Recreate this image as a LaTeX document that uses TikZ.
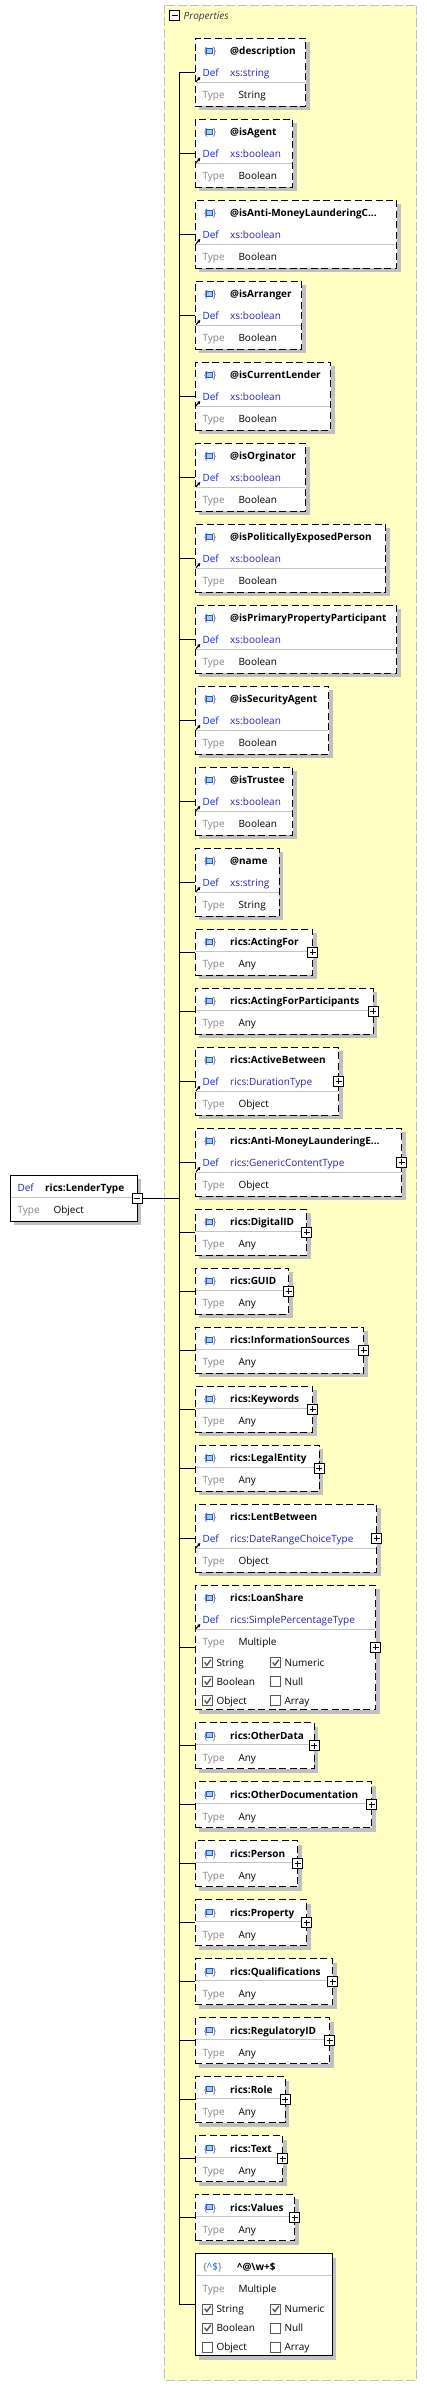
\documentclass[tikz,border=0pt]{standalone}
\usepackage{fontspec}
\setmainfont{Open Sans}
\usetikzlibrary{positioning,shadows,arrows.meta}

\definecolor{panelfill}{RGB}{255,255,196}
\definecolor{panelline}{RGB}{190,190,190}
\definecolor{shadowgray}{RGB}{192,192,192}
\definecolor{sepgray}{RGB}{196,196,196}
\definecolor{defblue}{RGB}{20,40,230}
\definecolor{valblue}{RGB}{44,36,175}
\definecolor{typegray}{RGB}{140,128,140}
\definecolor{bracegray}{RGB}{110,110,110}
\definecolor{iconblue}{RGB}{30,90,220}
\definecolor{iconfill}{RGB}{170,200,250}
\definecolor{checkgray}{RGB}{90,90,90}

\tikzset{
  elem/.style={draw, line width=1pt, fill=white, inner sep=0pt, outer sep=0pt,
    drop shadow={shadow xshift=4pt, shadow yshift=-4pt, fill=shadowgray, draw=none, opacity=1}},
  optbox/.style={dash pattern=on 7pt off 3.5pt},
  plaintxt/.style={anchor=base west, inner sep=0pt, font=\fontsize{10}{12}\selectfont},
  titletxt/.style={plaintxt, font=\fontsize{10}{12}\selectfont\bfseries},
  deftxt/.style={plaintxt, text=defblue},
  valtxt/.style={plaintxt, text=valblue},
  typetxt/.style={plaintxt, text=typegray},
  bracetxt/.style={plaintxt, text=bracegray},
  iconsq/.style={draw=iconblue, fill=iconfill, line width=0.9pt},
  linkarrow/.style={-{Stealth[length=3pt,width=3.6pt]}, line width=1.1pt},
  sepline/.style={draw=sepgray, line width=0.9pt, shorten <=0.5pt, shorten >=0.5pt},
  branch/.style={line width=1pt},
  minusbox/.style={draw, line width=0.8pt, fill=white, minimum size=10pt, inner sep=0pt,
    path picture={\draw[line width=0.8pt]
      ([xshift=2pt]path picture bounding box.west) -- ([xshift=-2pt]path picture bounding box.east);}},
  plusbox/.style={draw, line width=0.8pt, fill=white, minimum size=10pt, inner sep=0pt,
    path picture={\draw[line width=0.8pt]
      ([xshift=2pt]path picture bounding box.west) -- ([xshift=-2pt]path picture bounding box.east)
      ([yshift=-2pt]path picture bounding box.north) -- ([yshift=2pt]path picture bounding box.south);}},
  cbox/.style={draw=checkgray, line width=0.8pt, fill=white, minimum size=10pt, inner sep=0pt, anchor=west},
  ticked/.style={cbox,
    path picture={\draw[line width=1.4pt]
      ([shift={(2,5.2)}]path picture bounding box.south west) --
      ([shift={(4.2,2.4)}]path picture bounding box.south west) --
      ([shift={(8.2,8)}]path picture bounding box.south west);}}
}

% title row: icon and name
\newcommand{\elemhead}[2]{%
  \node[bracetxt] (#1icon) at ([shift={(8.3,-16.5)}]#1.north west) {\{\hspace{5pt}\}};
  \draw[iconsq] ([shift={(11.4,-9.7)}]#1.north west) rectangle ++(6,-5);
  \node[titletxt] (#1title) at ([shift={(34.7,-16.5)}]#1.north west) {#2};}
% def row
\newcommand{\elemdef}[2]{%
  \draw[linkarrow] ([shift={(0.6,-43.4)}]#1.north west) -- ++(4.4,4.6);
  \node[deftxt] (#1def) at ([shift={(7,-38.5)}]#1.north west) {Def};
  \node[valtxt] (#1defval) at ([shift={(34.7,-38.5)}]#1.north west) {#2};}
% type row under a separator
\newcommand{\elemtype}[3]{%
  \draw[sepline] ([yshift=-#2pt]#1.north west) -- ([yshift=-#2pt]#1.north east);
  \node[typetxt] (#1type) at ([shift={(7,-#2-16.5)}]#1.north west) {Type};
  \node[plaintxt] (#1typeval) at ([shift={(43,-#2-16.5)}]#1.north west) {#3};}
% one json type check box
\newcommand{\checkitem}[5]{%
  \node[#4] (#1-#5) at ([shift={(#2,-#3)}]#1.north west) {};
  \node[plaintxt] (#1-#5txt) at ([shift={(#2+14,-#3-3.6)}]#1.north west) {#5};}

\newcommand{\attrelem}[6]{%
  \node[elem, optbox, #2, anchor=north west, minimum width=#3, minimum height=68] (#1) {};
  \elemhead{#1}{#4}\elemdef{#1}{#5}\elemtype{#1}{44}{#6}
  \draw[branch] (trunk |- #1.west) -- (#1.west);}
\newcommand{\anyelem}[4]{%
  \node[elem, optbox, #2, anchor=north west, minimum width=#3, minimum height=46] (#1) {};
  \elemhead{#1}{#4}\elemtype{#1}{22}{Any}
  \node[plusbox] (#1plus) at (#1.east) {};
  \draw[branch] (trunk |- #1.west) -- (#1.west);}
\newcommand{\objelem}[5]{%
  \node[elem, optbox, #2, anchor=north west, minimum width=#3, minimum height=68] (#1) {};
  \elemhead{#1}{#4}\elemdef{#1}{#5}\elemtype{#1}{44}{Object}
  \node[plusbox] (#1plus) at (#1.east) {};
  \draw[branch] (trunk |- #1.west) -- (#1.west);}

\begin{document}
\begin{tikzpicture}[x=1pt, y=1pt, node distance=13pt]
  \useasboundingbox (0,0) rectangle (427,-2386);

  % properties panel
  \draw[fill=panelfill, draw=panelline, line width=1pt, dash pattern=on 9pt off 3pt]
    (164.3,-5.3) rectangle (416.7,-2380);
  \node[minusbox] (propminus) at (174.7,-15.7) {};
  \node[plaintxt, font=\fontsize{10}{12}\selectfont\itshape, text=black!80] (proptitle)
    at (183.5,-19.5) {Properties};

  \coordinate (trunk) at (179.7,0);

  \attrelem{desc}{at={(195.3,-38.3)}}{110.4}{@description}{xs:string}{String}
  \attrelem{agent}{below=of desc.south west}{97.4}{@isAgent}{xs:boolean}{Boolean}
  \attrelem{amlc}{below=of agent.south west}{201.4}{@isAnti-MoneyLaunderingC...}{xs:boolean}{Boolean}
  \attrelem{arranger}{below=of amlc.south west}{106.4}{@isArranger}{xs:boolean}{Boolean}
  \attrelem{curlender}{below=of arranger.south west}{135.4}{@isCurrentLender}{xs:boolean}{Boolean}
  \attrelem{orginator}{below=of curlender.south west}{110.4}{@isOrginator}{xs:boolean}{Boolean}
  \attrelem{pep}{below=of orginator.south west}{190.4}{@isPoliticallyExposedPerson}{xs:boolean}{Boolean}
  \attrelem{ppp}{below=of pep.south west}{201.4}{@isPrimaryPropertyParticipant}{xs:boolean}{Boolean}
  \attrelem{secagent}{below=of ppp.south west}{133.4}{@isSecurityAgent}{xs:boolean}{Boolean}
  \attrelem{trustee}{below=of secagent.south west}{97.4}{@isTrustee}{xs:boolean}{Boolean}
  \attrelem{name}{below=of trustee.south west}{84}{@name}{xs:string}{String}
  \anyelem{actfor}{below=of name.south west}{117.4}{rics:ActingFor}
  \anyelem{actforp}{below=of actfor.south west}{178}{rics:ActingForParticipants}
  \objelem{activebtw}{below=of actforp.south west}{143.4}{rics:ActiveBetween}{rics:DurationType}
  \objelem{amle}{below=of activebtw.south west}{206.4}{rics:Anti-MoneyLaunderingE...}{rics:GenericContentType}
  \anyelem{digitalid}{below=of amle.south west}{111.4}{rics:DigitalID}
  \anyelem{guid}{below=of digitalid.south west}{93.4}{rics:GUID}
  \anyelem{infosrc}{below=of guid.south west}{168.4}{rics:InformationSources}
  \anyelem{keywords}{below=of infosrc.south west}{117.4}{rics:Keywords}
  \anyelem{legal}{below=of keywords.south west}{124}{rics:LegalEntity}
  \objelem{lentbtw}{below=of legal.south west}{181.4}{rics:LentBetween}{rics:DateRangeChoiceType}

  % loan share, several json types
  \node[elem, optbox, below=of lentbtw.south west, anchor=north west,
    minimum width=180.4, minimum height=124.3] (loanshare) {};
  \elemhead{loanshare}{rics:LoanShare}
  \elemdef{loanshare}{rics:SimplePercentageType}
  \elemtype{loanshare}{44}{Multiple}
  \checkitem{loanshare}{7}{77.3}{ticked}{String}
  \checkitem{loanshare}{75}{77.3}{ticked}{Numeric}
  \checkitem{loanshare}{7}{96.3}{ticked}{Boolean}
  \checkitem{loanshare}{75}{96.3}{cbox}{Null}
  \checkitem{loanshare}{7}{115.3}{ticked}{Object}
  \checkitem{loanshare}{75}{115.3}{cbox}{Array}
  \node[plusbox] (loanshareplus) at (loanshare.east) {};
  \draw[branch] (trunk |- loanshare.west) -- (loanshare.west);

  \anyelem{otherdata}{below=of loanshare.south west}{119}{rics:OtherData}
  \anyelem{otherdoc}{below=of otherdata.south west}{176.4}{rics:OtherDocumentation}
  \anyelem{person}{below=of otherdoc.south west}{102.4}{rics:Person}
  \anyelem{property}{below=of person.south west}{111.4}{rics:Property}
  \anyelem{qualif}{below=of property.south west}{137.4}{rics:Qualifications}
  \anyelem{regid}{below=of qualif.south west}{134.4}{rics:RegulatoryID}
  \anyelem{role}{below=of regid.south west}{89.7}{rics:Role}
  \anyelem{ricstext}{below=of role.south west}{87.4}{rics:Text}
  \anyelem{values}{below=of ricstext.south west}{99.4}{rics:Values}

  % pattern property
  \node[elem, below=of values.south west, anchor=north west,
    minimum width=137, minimum height=102.3] (pattern) {};
  \node[bracetxt] (patternicon) at ([shift={(7.7,-16.5)}]pattern.north west)
    {\{\textcolor{iconblue}{\textasciicircum\$}\}};
  \node[titletxt] (patterntitle) at ([shift={(41.7,-16.5)}]pattern.north west)
    {\textasciicircum @\textbackslash w+\$};
  \elemtype{pattern}{22}{Multiple}
  \checkitem{pattern}{7}{55.3}{ticked}{String}
  \checkitem{pattern}{75}{55.3}{ticked}{Numeric}
  \checkitem{pattern}{7}{74.3}{ticked}{Boolean}
  \checkitem{pattern}{75}{74.3}{cbox}{Null}
  \checkitem{pattern}{7}{93.3}{cbox}{Object}
  \checkitem{pattern}{75}{93.3}{cbox}{Array}
  \draw[branch] (trunk |- pattern.west) -- (pattern.west);

  \draw[branch] (trunk |- desc.west) -- (trunk |- pattern.west);

  % root type
  \node[elem, anchor=north west, minimum width=127, minimum height=46] (root) at (10.3,-1175) {};
  \draw[sepline] ([yshift=-22pt]root.north west) -- ([yshift=-22pt]root.north east);
  \node[deftxt] (rootdef) at ([shift={(7,-16.5)}]root.north west) {Def};
  \node[titletxt] (roottitle) at ([shift={(34.7,-16.5)}]root.north west) {rics:LenderType};
  \node[typetxt] (roottype) at ([shift={(7,-38.5)}]root.north west) {Type};
  \node[plaintxt] (roottypeval) at ([shift={(43,-38.5)}]root.north west) {Object};
  \node[minusbox] (rootminus) at (root.east) {};
  \draw[branch] (rootminus.east) -- (trunk |- root.east);

\end{tikzpicture}
\end{document}
